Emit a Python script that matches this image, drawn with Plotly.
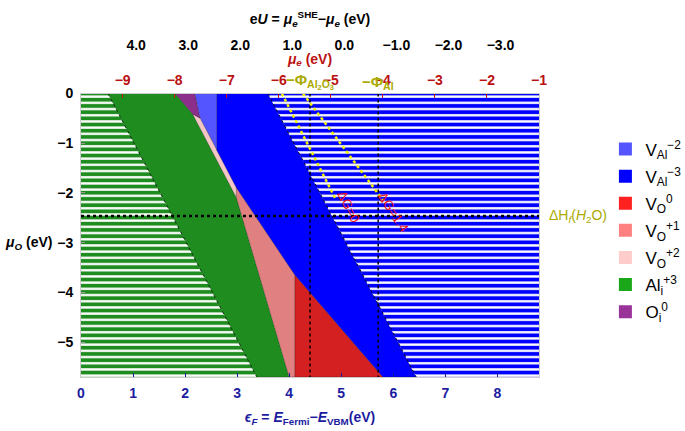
import plotly.graph_objects as go

# ---------------- data ----------------
EPS_MAX = 8.8          # eps_F range end (eV)
MUO_MIN = -5.7         # mu_O range end (eV)
MU_E_AT_VBM = -9.8     # mu_e at eps_F = 0
EU_AT_VBM = 5.06       # eU at eps_F = 0

eps_ticks = [0, 1, 2, 3, 4, 5, 6, 7, 8]
muO_ticks = [0, -1, -2, -3, -4, -5]
mu_e_ticks = [-9, -8, -7, -6, -5, -4, -3, -2, -1]
eU_ticks = [4.0, 3.0, 2.0, 1.0, 0.0, -1.0, -2.0, -3.0]

# predominance regions: polygon vertices (eps_F, mu_O)
al_hatch_eps = [0.0, 0.52, 3.38, 0.0]
al_hatch_mu = [0.0, 0.0, -5.7, -5.7]
al_eps = [0.52, 1.81, 2.15, 2.986, 4.00, 3.38]
al_mu = [0.0, 0.0, -0.42, -2.092, -5.7, -5.7]
oi_eps = [1.81, 2.19, 2.29, 2.15]
oi_mu = [0.0, 0.0, -0.50, -0.42]
val2_eps = [2.19, 2.61, 2.61, 2.29]
val2_mu = [0.0, 0.0, -1.14, -0.50]
vo2_eps = [2.15, 2.29, 2.61, 2.986, 2.986]
vo2_mu = [-0.42, -0.50, -1.14, -1.893, -2.092]
vo1_eps = [2.986, 2.986, 4.11, 4.11, 4.00]
vo1_mu = [-2.092, -1.893, -3.65, -5.7, -5.7]
vo0_eps = [4.11, 5.80, 4.11]
vo0_mu = [-3.65, -5.7, -5.7]
val3_eps = [2.61, 3.59, 6.44, 5.80, 4.11, 2.986, 2.61]
val3_mu = [0.0, 0.0, -5.7, -5.7, -3.65, -1.893, -1.14]
val3_hatch_eps = [3.59, 8.8, 8.8, 6.44]
val3_hatch_mu = [0.0, 0.0, -5.7, -5.7]

# reference lines
phi_al2o3_eps = 4.40
phi_al_eps = 5.71
dH_H2O = -2.46
dg0_eps = [3.86, 4.90]
dg0_mu = [0.0, -2.14]
dg14_eps = [4.265, 5.80]
dg14_mu = [0.0, -2.14]
dg0_label = (5.14, -2.27)
dg14_label = (5.99, -2.38)

legend_names = ["V<sub>Al</sub><sup>−2</sup>", "V<sub>Al</sub><sup>−3</sup>",
                "V<sub>O</sub><sup>0</sup>", "V<sub>O</sub><sup>+1</sup>",
                "V<sub>O</sub><sup>+2</sup>", "Al<sub>i</sub><sup>+3</sup>",
                "O<sub>i</sub><sup>0</sup>"]
legend_colors = ["#5555ff", "#0000ff", "#ff2020", "#ff8080", "#ffcccc", "#1aa81a", "#993399"]

# ---------------- figure ----------------
FONT = "Liberation Sans, Arial, sans-serif"
RED = "#bb1111"
BLUE = "#1c1ca0"
OLIVE = "#aaaa00"
GREEN = "#1f8c1f"

fig = go.Figure()


def region(xs, ys, color, hatch=False):
    kw = dict(x=xs + [xs[0]], y=ys + [ys[0]], mode="lines", fill="toself",
              fillcolor=color, line=dict(width=0.6, color="rgba(0,0,0,0.35)"),
              showlegend=False, hoverinfo="skip")
    if hatch:
        kw["line"] = dict(width=0)
        kw["fillpattern"] = dict(shape="-", bgcolor=color, fgcolor="white",
                                 size=6.2, solidity=0.38, fillmode="replace")
    fig.add_trace(go.Scatter(**kw))


region(al_hatch_eps, al_hatch_mu, GREEN, hatch=True)
region(al_eps, al_mu, GREEN)
region(oi_eps, oi_mu, "#8b2f8b")
region(val2_eps, val2_mu, "#5555ff")
region(vo2_eps, vo2_mu, "#f4c6c6")
region(vo1_eps, vo1_mu, "#e08080")
region(vo0_eps, vo0_mu, "#d42020")
region(val3_eps, val3_mu, "#0000ff")
region(val3_hatch_eps, val3_hatch_mu, "#0000ff", hatch=True)

# hatch boundaries
fig.add_trace(go.Scatter(x=[al_hatch_eps[1], al_hatch_eps[2]], y=[al_hatch_mu[1], al_hatch_mu[2]],
                         mode="lines", line=dict(color="#0a3a0a", width=1, dash="dot"),
                         showlegend=False, hoverinfo="skip"))
fig.add_trace(go.Scatter(x=[val3_hatch_eps[0], val3_hatch_eps[3]], y=[val3_hatch_mu[0], val3_hatch_mu[3]],
                         mode="lines", line=dict(color="#000033", width=1, dash="dot"),
                         showlegend=False, hoverinfo="skip"))

# vertical work-function lines
for xv in (phi_al2o3_eps, phi_al_eps):
    fig.add_trace(go.Scatter(x=[xv, xv], y=[0, MUO_MIN], mode="lines",
                             line=dict(color="black", width=1.5, dash="dot"),
                             showlegend=False, hoverinfo="skip"))
# water formation enthalpy
fig.add_trace(go.Scatter(x=[0, EPS_MAX], y=[dH_H2O, dH_H2O], mode="lines",
                         line=dict(color="black", width=2.5, dash="dot"),
                         showlegend=False, hoverinfo="skip"))
# yellow lines
for xs, ys in ((dg0_eps, dg0_mu), (dg14_eps, dg14_mu)):
    fig.add_trace(go.Scatter(x=xs, y=ys, mode="lines",
                             line=dict(color="#f0f000", width=2.5, dash="dot"),
                             showlegend=False, hoverinfo="skip"))

# legend entries
for name, col in zip(legend_names, legend_colors):
    fig.add_trace(go.Scatter(x=[None], y=[None], mode="markers", name=name, legendgroup=name,
                             marker=dict(symbol="square", size=13, color=col,
                                         line=dict(width=0))))

# phantom traces so overlaying axes exist
fig.add_trace(go.Scatter(x=[None], y=[None], xaxis="x2", yaxis="y", showlegend=False))
fig.add_trace(go.Scatter(x=[None], y=[None], xaxis="x3", yaxis="y", showlegend=False))

tickfont = dict(family=FONT, size=14, weight="bold")

fig.update_layout(
    width=685, height=431,
    margin=dict(l=81, r=146, t=5, b=54, autoexpand=False),
    plot_bgcolor="white", paper_bgcolor="white",
    font=dict(family=FONT, size=14, color="black"),
    showlegend=True,
    legend=dict(x=1.145, y=0.66, xanchor="left", yanchor="top",
                font=dict(family=FONT, size=17, color="black"),
                bgcolor="rgba(0,0,0,0)", tracegroupgap=2, itemwidth=30),
    xaxis=dict(range=[0, EPS_MAX], domain=[0, 1], anchor="y",
               tickvals=eps_ticks, ticktext=[str(v) for v in eps_ticks],
               tickfont=dict(tickfont, color=BLUE), ticks="inside", ticklen=4,
               tickcolor=BLUE, showgrid=False, zeroline=False,
               showline=True, linecolor="#cccccc", mirror=False,
               ticklabelstandoff=3,
               title=dict(text="<i>ϵ<sub>F</sub></i> = <i>E</i><sub>Fermi</sub>−<i>E</i><sub>VBM</sub>(eV)",
                          font=dict(family=FONT, size=14, color=BLUE, weight="bold"),
                          standoff=12)),
    yaxis=dict(range=[MUO_MIN, 0], domain=[0, 0.762], anchor="x",
               tickvals=muO_ticks, ticktext=["0" if v == 0 else "−%d" % (-v) for v in muO_ticks],
               tickfont=dict(tickfont, color="black"), ticks="inside", ticklen=4,
               tickcolor="#999999", showgrid=False, zeroline=False,
               showline=True, linecolor="#cccccc", mirror=True, ticklabelstandoff=4),
    xaxis2=dict(range=[MU_E_AT_VBM, MU_E_AT_VBM + EPS_MAX], overlaying="x", anchor="y",
                side="top", tickvals=mu_e_ticks, ticktext=["−%d" % (-v) for v in mu_e_ticks],
                tickfont=dict(tickfont, color=RED), ticks="inside", ticklen=4,
                tickcolor=RED, showgrid=False, zeroline=False,
                showline=True, linecolor="#cccccc", ticklabelstandoff=2,
                title=dict(text="<i>μ<sub>e</sub></i> (eV)",
                           font=dict(family=FONT, size=14, color=RED, weight="bold"),
                           standoff=4)),
    xaxis3=dict(range=[EU_AT_VBM, EU_AT_VBM - EPS_MAX], overlaying="x", anchor="free",
                position=0.866, side="top", tickvals=eU_ticks,
                ticktext=[("−%.1f" % (-v)) if v < 0 else "%.1f" % v for v in eU_ticks],
                tickfont=dict(tickfont, color="black"), ticks="", showgrid=False,
                zeroline=False, showline=False, ticklabelstandoff=2,
                title=dict(text="e<i>U</i> = <i>μ<sub>e</sub></i><sup>SHE</sup>−<i>μ<sub>e</sub></i> (eV)",
                           font=dict(family=FONT, size=14, color="black", weight="bold"),
                           standoff=8)),
)

# annotations
fig.add_annotation(x=-0.115, xref="paper", y=-3.0, yref="y", xanchor="center",
                   text="<b><i>μ<sub>O</sub></i> (eV)</b>", showarrow=False,
                   font=dict(family=FONT, size=14, color="black"))
fig.add_annotation(x=1.018, xref="paper", y=dH_H2O, yref="y", xanchor="left",
                   text="ΔH<sub><i>f</i></sub>(<i>H</i><sub>2</sub>O)", showarrow=False,
                   font=dict(family=FONT, size=14, color=OLIVE))
fig.add_annotation(x=phi_al2o3_eps, xref="x", y=0, yref="y", yanchor="bottom", yshift=0,
                   text="<b>−Φ<sub>Al<sub>2</sub>O<sub>3</sub></sub></b>", showarrow=False,
                   font=dict(family=FONT, size=15, color=OLIVE))
fig.add_annotation(x=phi_al_eps, xref="x", y=0, yref="y", yanchor="bottom", yshift=0,
                   text="<b>−Φ<sub>Al</sub></b>", showarrow=False,
                   font=dict(family=FONT, size=15, color=OLIVE))
fig.add_annotation(x=dg0_label[0], xref="x", y=dg0_label[1], yref="y", textangle=63,
                   text="ΔG=0", showarrow=False,
                   font=dict(family=FONT, size=13, color="#ee1111"))
fig.add_annotation(x=dg14_label[0], xref="x", y=dg14_label[1], yref="y", textangle=57,
                   text="ΔG=1.4", showarrow=False,
                   font=dict(family=FONT, size=13, color="#ee1111"))

fig.write_html("out.html", config={"displayModeBar": False},
               post_script="document.body.style.margin='0px';document.body.style.overflow='hidden';")
